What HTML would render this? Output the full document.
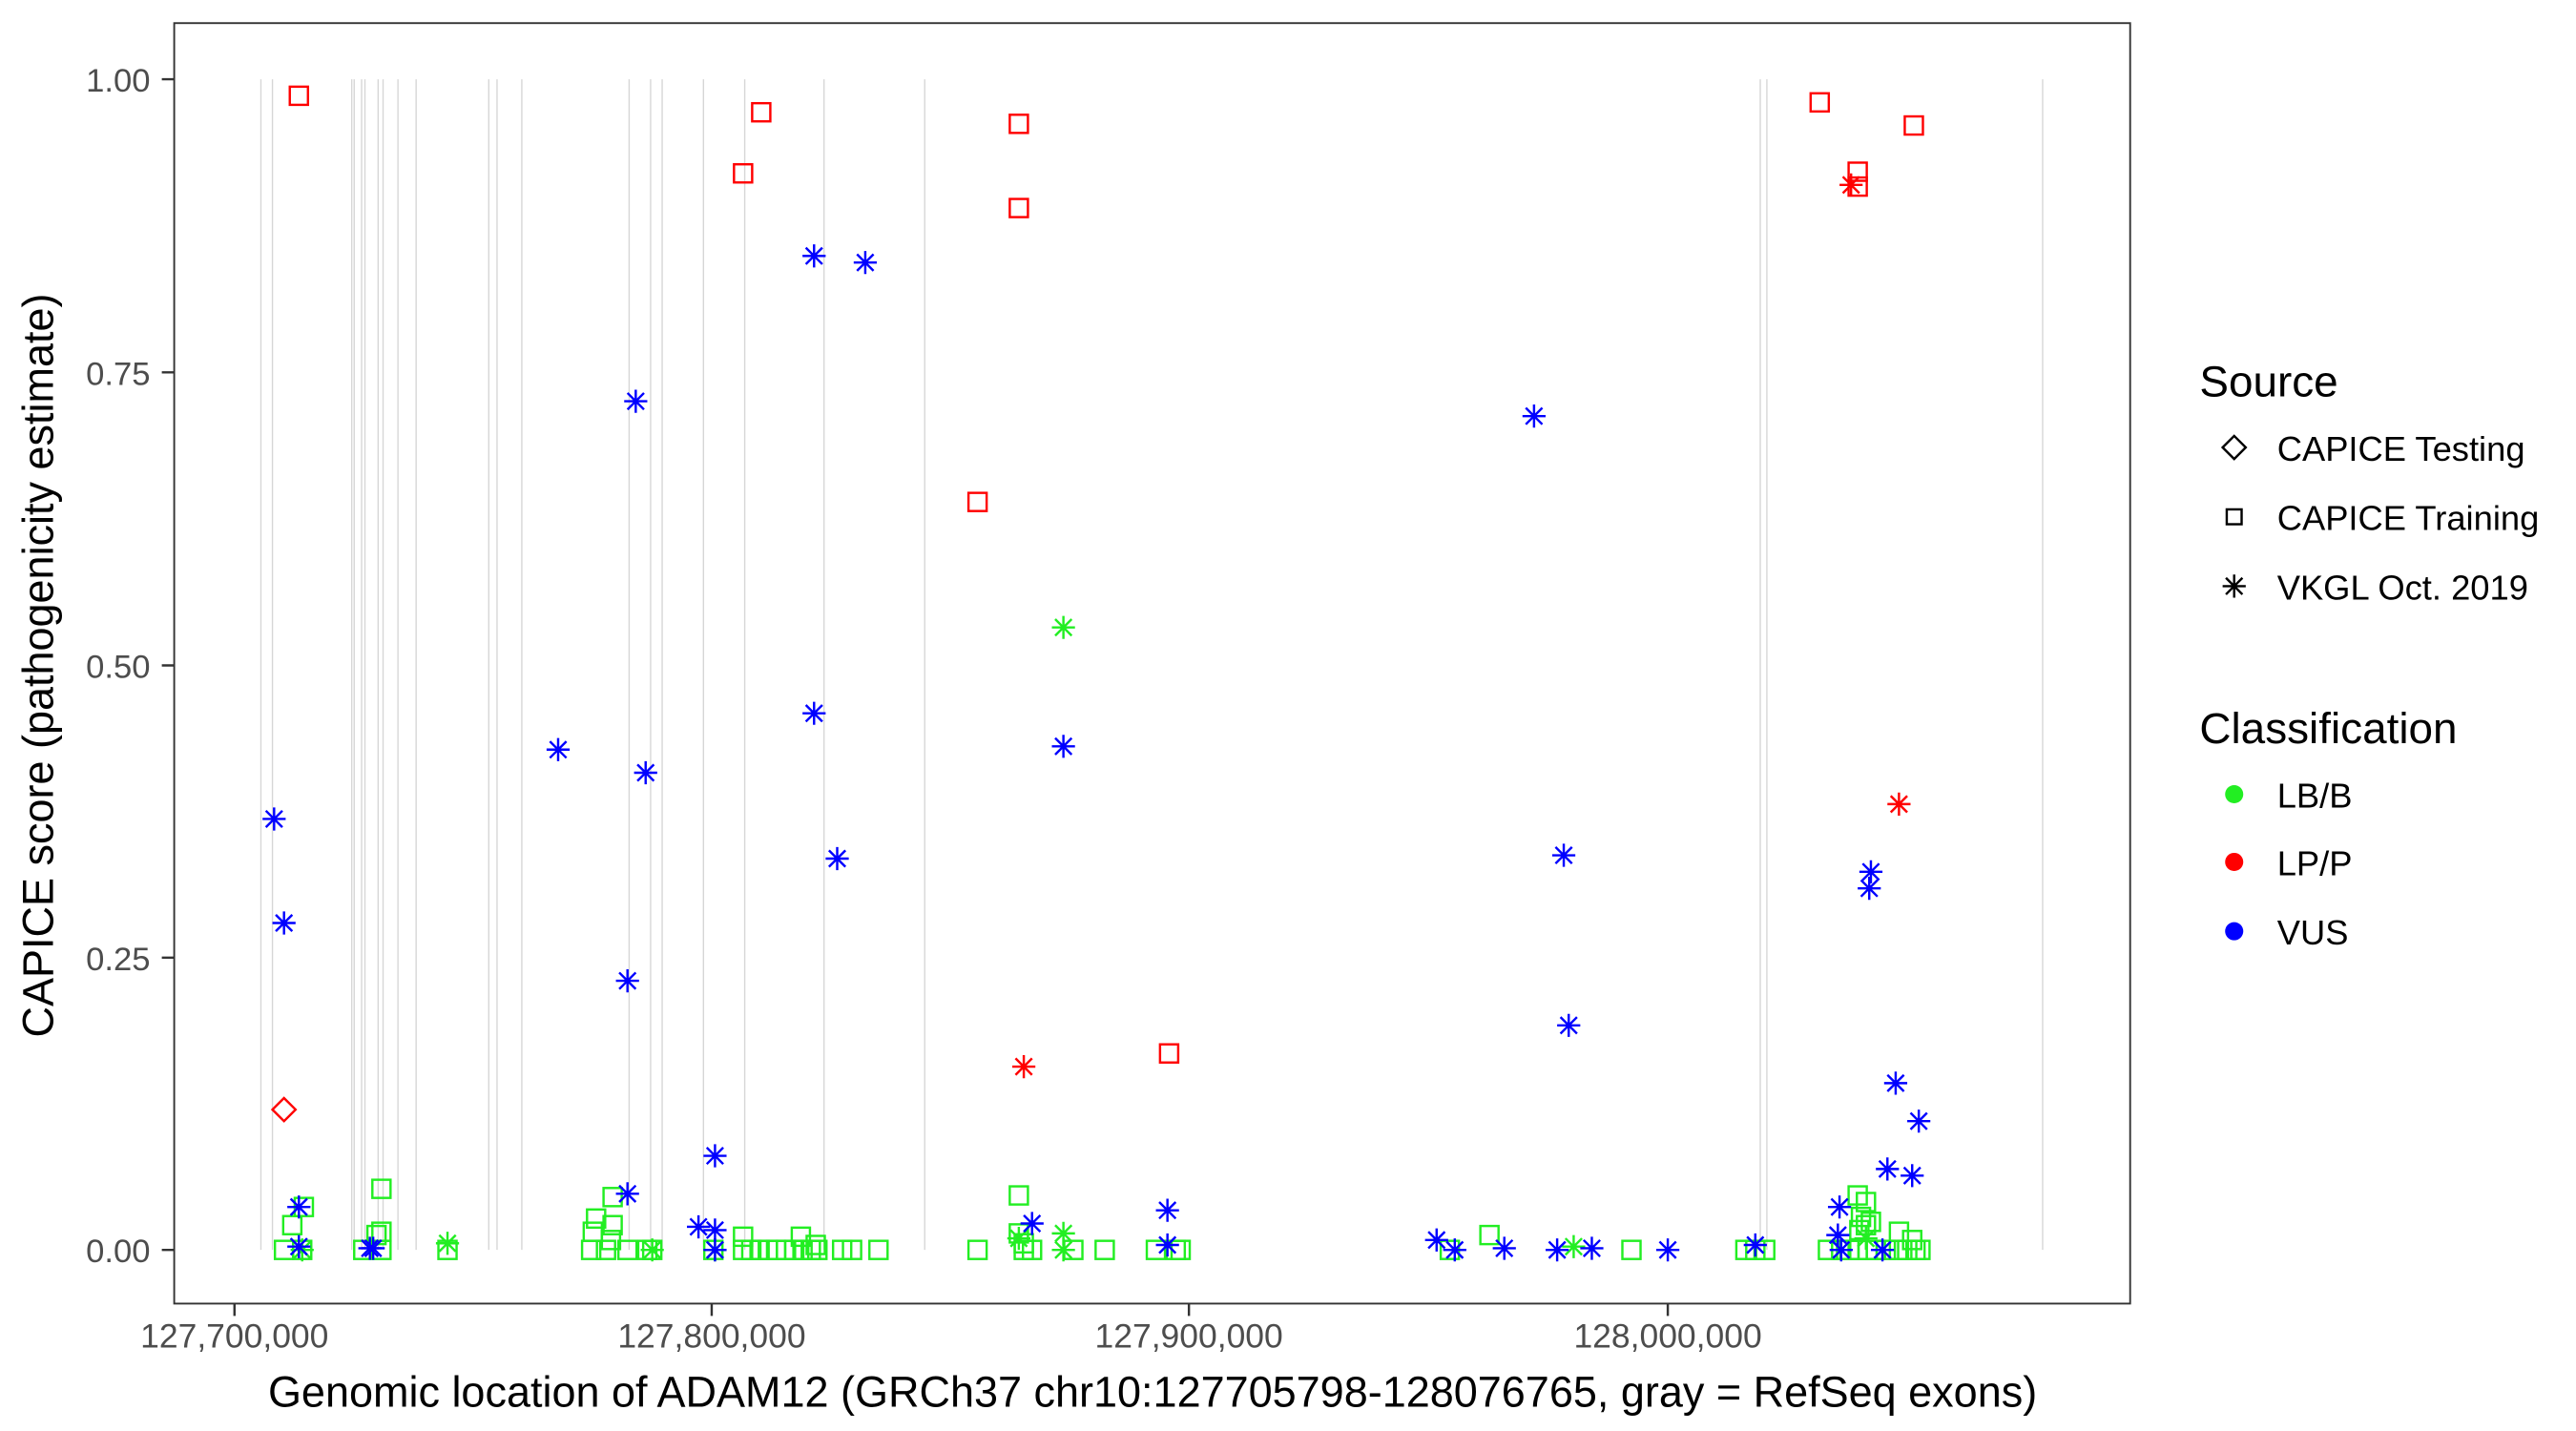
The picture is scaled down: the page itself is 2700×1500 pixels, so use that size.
<!DOCTYPE html>
<html><head><meta charset="utf-8"><style>
html,body{margin:0;padding:0;background:#fff}
svg{display:block}
text{font-family:"Liberation Sans",sans-serif}
</style></head><body>
<svg width="2700" height="1500" viewBox="0 0 1560 866.67" preserveAspectRatio="none" xmlns="http://www.w3.org/2000/svg">
<defs>
<g id="sq"><rect x="-5.5" y="-5.5" width="11" height="11" fill="none" stroke-width="1.4"/></g>
<g id="ast"><path d="M-7 0H7M0 -7V7M-5 -5L5 5M-5 5L5 -5" fill="none" stroke-width="1.4"/></g>
<g id="dia"><path d="M0 -7L7 0L0 7L-7 0Z" fill="none" stroke-width="1.4"/></g>
</defs>
<rect x="0" y="0" width="1560" height="867" fill="#fff"/>
<g stroke="#d6d6d6" stroke-width="0.8">
<path d="M158 48V757M165 48V757M213 48V757M214.5 48V757M219 48V757M221 48V757M229 48V757M232 48V757M241 48V757M252 48V757M296 48V757M301 48V757M316 48V757M381 48V757M394 48V757M401 48V757M426 48V757M451 48V757M499 48V757M560 48V757M1066 48V757M1070 48V757M1237 48V757"/>
</g>
<g stroke="#22ee22">
<use href="#sq" x="172" y="757"/><use href="#sq" x="183" y="757"/><use href="#sq" x="220" y="757"/><use href="#sq" x="231" y="757"/><use href="#sq" x="271" y="757"/><use href="#sq" x="358" y="757"/><use href="#sq" x="367" y="757"/><use href="#sq" x="380" y="757"/><use href="#sq" x="392" y="757"/><use href="#sq" x="395" y="757"/><use href="#sq" x="432" y="757"/><use href="#sq" x="450" y="757"/><use href="#sq" x="455" y="757"/><use href="#sq" x="460" y="757"/><use href="#sq" x="465" y="757"/><use href="#sq" x="470" y="757"/><use href="#sq" x="476" y="757"/><use href="#sq" x="481" y="757"/><use href="#sq" x="486" y="757"/><use href="#sq" x="491" y="757"/><use href="#sq" x="495" y="757"/><use href="#sq" x="510" y="757"/><use href="#sq" x="516" y="757"/><use href="#sq" x="532" y="757"/><use href="#sq" x="592" y="757"/><use href="#sq" x="620" y="757"/><use href="#sq" x="625" y="757"/><use href="#sq" x="669" y="757"/><use href="#sq" x="700" y="757"/><use href="#sq" x="712" y="757"/><use href="#sq" x="715" y="757"/><use href="#sq" x="878" y="757"/><use href="#sq" x="988" y="757"/><use href="#sq" x="1057" y="757"/><use href="#sq" x="1063" y="757"/><use href="#sq" x="1069" y="757"/><use href="#sq" x="1107" y="757"/><use href="#sq" x="1115" y="757"/><use href="#sq" x="1120" y="757"/><use href="#sq" x="1125" y="757"/><use href="#sq" x="1131" y="757"/><use href="#sq" x="1136" y="757"/><use href="#sq" x="1142" y="757"/><use href="#sq" x="1150" y="757"/><use href="#sq" x="1155" y="757"/><use href="#sq" x="1160" y="757"/><use href="#sq" x="1163" y="757"/><use href="#sq" x="650" y="757"/>
<use href="#sq" x="184" y="731"/><use href="#sq" x="177" y="742"/><use href="#sq" x="231" y="720"/><use href="#sq" x="231" y="746"/><use href="#sq" x="228" y="748"/><use href="#sq" x="359" y="746"/><use href="#sq" x="361" y="738"/><use href="#sq" x="371" y="742"/><use href="#sq" x="370" y="751"/><use href="#sq" x="371" y="725"/><use href="#sq" x="450" y="749"/><use href="#sq" x="485" y="749"/><use href="#sq" x="494" y="754"/><use href="#sq" x="617" y="724"/><use href="#sq" x="617" y="747"/><use href="#sq" x="620" y="753"/><use href="#sq" x="902" y="748"/><use href="#sq" x="1125" y="724"/><use href="#sq" x="1130" y="728"/><use href="#sq" x="1127" y="737"/><use href="#sq" x="1130" y="742"/><use href="#sq" x="1126" y="745"/><use href="#sq" x="1133" y="740"/><use href="#sq" x="1150" y="746"/><use href="#sq" x="1158" y="751"/>
</g>
<g stroke="#22ee22">
<use href="#ast" x="644" y="380"/><use href="#ast" x="271" y="753"/><use href="#ast" x="183" y="757"/><use href="#ast" x="395" y="757"/><use href="#ast" x="433" y="757"/><use href="#ast" x="644" y="747"/><use href="#ast" x="644" y="757"/><use href="#ast" x="617" y="750"/><use href="#ast" x="953" y="755"/><use href="#ast" x="1130" y="750"/>
</g>
<g stroke="#0000ff">
<use href="#ast" x="166" y="496"/><use href="#ast" x="172" y="559"/><use href="#ast" x="385" y="243"/><use href="#ast" x="338" y="454"/><use href="#ast" x="391" y="468"/><use href="#ast" x="380" y="594"/><use href="#ast" x="493" y="155"/><use href="#ast" x="524" y="159"/><use href="#ast" x="493" y="432"/><use href="#ast" x="507" y="520"/><use href="#ast" x="644" y="452"/><use href="#ast" x="929" y="252"/><use href="#ast" x="947" y="518"/><use href="#ast" x="950" y="621"/><use href="#ast" x="1133" y="528"/><use href="#ast" x="1132" y="538"/><use href="#ast" x="1148" y="656"/><use href="#ast" x="1162" y="679"/><use href="#ast" x="1143" y="708"/><use href="#ast" x="1158" y="712"/><use href="#ast" x="380" y="723"/><use href="#ast" x="433" y="700"/><use href="#ast" x="423" y="743"/><use href="#ast" x="433" y="745"/><use href="#ast" x="707" y="733"/><use href="#ast" x="625" y="741"/><use href="#ast" x="181" y="731"/><use href="#ast" x="181" y="755"/><use href="#ast" x="224" y="756"/><use href="#ast" x="226" y="756"/><use href="#ast" x="870" y="751"/><use href="#ast" x="881" y="757"/><use href="#ast" x="911" y="756"/><use href="#ast" x="943" y="757"/><use href="#ast" x="964" y="756"/><use href="#ast" x="1010" y="757"/><use href="#ast" x="1063" y="754"/><use href="#ast" x="1114" y="731"/><use href="#ast" x="1113" y="748"/><use href="#ast" x="1115" y="757"/><use href="#ast" x="1140" y="757"/><use href="#ast" x="707" y="754"/><use href="#ast" x="433" y="757"/>
</g>
<g stroke="#ff0000">
<use href="#sq" x="181" y="58"/><use href="#sq" x="461" y="68"/><use href="#sq" x="450" y="105"/><use href="#sq" x="617" y="75"/><use href="#sq" x="617" y="126"/><use href="#sq" x="592" y="304"/><use href="#sq" x="708" y="638"/><use href="#sq" x="1102" y="62"/><use href="#sq" x="1159" y="76"/><use href="#sq" x="1125" y="104"/><use href="#sq" x="1125" y="113"/>
<use href="#ast" x="1121" y="112"/><use href="#ast" x="1150" y="487"/><use href="#ast" x="620" y="646"/>
<use href="#dia" x="172" y="672"/>
</g>
<rect x="105.5" y="14" width="1184.5" height="775.5" fill="none" stroke="#333" stroke-width="1.1"/>
<g stroke="#333" stroke-width="1.4">
<path d="M98 48H105.5M98 225.5H105.5M98 403H105.5M98 580H105.5M98 757H105.5"/>
<path d="M142 789.5V797M431 789.5V797M720 789.5V797M1010 789.5V797"/>
</g>
<g font-size="20" fill="#4d4d4d" text-anchor="end">
<text x="91" y="55.5">1.00</text><text x="91" y="233">0.75</text><text x="91" y="410.5">0.50</text><text x="91" y="587.5">0.25</text><text x="91" y="764.5">0.00</text>
</g>
<g font-size="20.5" fill="#4d4d4d" text-anchor="middle">
<text x="142" y="816">127,700,000</text><text x="431" y="816">127,800,000</text><text x="720" y="816">127,900,000</text><text x="1010" y="816">128,000,000</text>
</g>
<text x="698" y="852" font-size="26" text-anchor="middle" fill="#000">Genomic location of ADAM12 (GRCh37 chr10:127705798-128076765, gray = RefSeq exons)</text>
<text transform="translate(32,403) rotate(-90)" font-size="26" text-anchor="middle" fill="#000">CAPICE score (pathogenicity estimate)</text>
<text x="1332" y="240" font-size="26.5" fill="#000">Source</text>
<g stroke="#000"><use href="#dia" x="1353" y="271"/><rect x="1348.5" y="308.5" width="9" height="9" fill="none" stroke-width="1.4"/><use href="#ast" x="1353" y="355"/></g>
<g font-size="21" fill="#000">
<text x="1379" y="279">CAPICE Testing</text><text x="1379" y="321">CAPICE Training</text><text x="1379" y="363">VKGL Oct. 2019</text>
</g>
<text x="1332" y="450" font-size="26.5" fill="#000">Classification</text>
<circle cx="1353" cy="481" r="5.5" fill="#22ee22"/><circle cx="1353" cy="522" r="5.5" fill="#ff0000"/><circle cx="1353" cy="564" r="5.5" fill="#0000ff"/>
<g font-size="21" fill="#000">
<text x="1379" y="489">LB/B</text><text x="1379" y="530">LP/P</text><text x="1379" y="572">VUS</text>
</g>
</svg>
</body></html>
